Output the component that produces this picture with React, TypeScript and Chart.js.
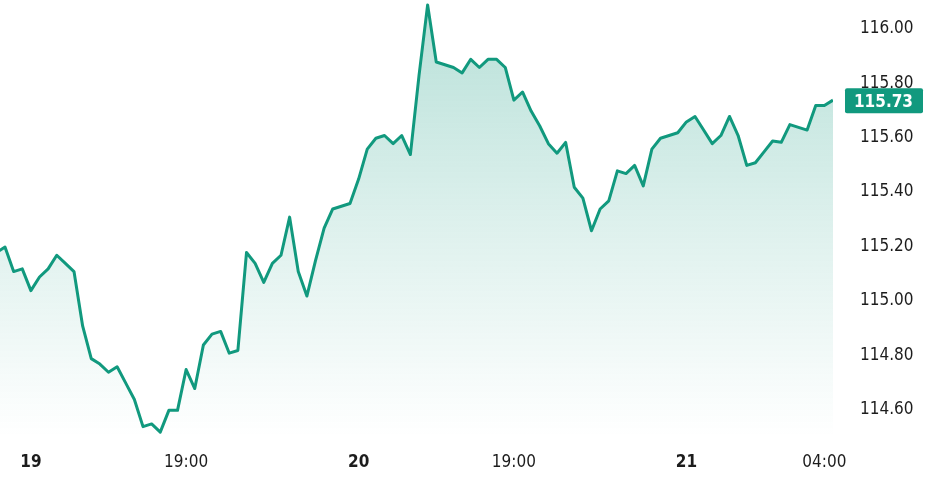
import React, { useEffect, useRef } from "react";
import { Chart, registerables } from "chart.js";

Chart.register(...registerables);

// Prices, one per step; the first one (index -1) sits just left of the visible area
const firstIndex = -1;
const prices = [
  115.17, 115.19, 115.10, 115.11, 115.03, 115.08, 115.11, 115.16, 115.13, 115.10,
  114.90, 114.78, 114.76, 114.73, 114.75, 114.69, 114.63, 114.53, 114.54, 114.51,
  114.59, 114.59, 114.74, 114.67, 114.83, 114.87, 114.88, 114.80, 114.81, 115.17,
  115.13, 115.06, 115.13, 115.16, 115.30, 115.10, 115.01, 115.14, 115.26, 115.33,
  115.34, 115.35, 115.44, 115.55, 115.59, 115.60, 115.57, 115.60, 115.53, 115.82,
  116.08, 115.87, 115.86, 115.85, 115.83, 115.88, 115.85, 115.88, 115.88, 115.85,
  115.73, 115.76, 115.69, 115.635, 115.57, 115.535, 115.575, 115.41, 115.37, 115.25,
  115.33, 115.36, 115.47, 115.46, 115.49, 115.415, 115.55, 115.59, 115.60, 115.61,
  115.65, 115.67, 115.62, 115.57, 115.60, 115.67, 115.60, 115.49, 115.50, 115.54,
  115.58, 115.575, 115.64, 115.63, 115.62, 115.71, 115.71, 115.73,
];

const tickIndices = [3, 21, 41, 59, 79, 95];
const tickLabels = ["19", "19:00", "20", "19:00", "21", "04:00"];
const tickBold = [true, false, true, false, true, false];
const yTicks = [114.6, 114.8, 115.0, 115.2, 115.4, 115.6, 115.8, 116.0];

const LINE = "#11997e";
const TEXT = "#1c1c1c";
const FONT = "'DejaVu Sans Condensed', 'DejaVu Sans', sans-serif";

export default function App() {
  const ref = useRef<HTMLCanvasElement>(null);

  useEffect(() => {
    if (!ref.current) return;
    const points = prices.map((p, i) => ({ x: i + firstIndex, y: p }));
    const last = prices[prices.length - 1];

    const badgePlugin = {
      id: "badge",
      afterDraw(chart: any) {
        const { ctx, chartArea } = chart;
        const y = chart.scales.y.getPixelForValue(last);
        const x0 = chartArea.right + 12;
        const w = 78;
        ctx.save();
        ctx.fillStyle = LINE;
        ctx.beginPath();
        (ctx as any).roundRect(x0, y - 12, w, 25, 2);
        ctx.fill();
        ctx.fillStyle = "#ffffff";
        ctx.font = `bold 17px ${FONT}`;
        ctx.textAlign = "right";
        ctx.textBaseline = "middle";
        ctx.fillText(last.toFixed(2), x0 + 68, y + 2);
        ctx.restore();
      },
    };

    const chart = new Chart(ref.current, {
      type: "line",
      data: {
        datasets: [
          {
            data: points,
            borderColor: LINE,
            borderWidth: 3,
            borderJoinStyle: "round",
            pointRadius: 0,
            pointHoverRadius: 0,
            tension: 0,
            fill: "start",
            backgroundColor: (c: any) => {
              const { chart } = c;
              const area = chart.chartArea;
              if (!area) return "rgba(17,153,126,0.15)";
              const g = chart.ctx.createLinearGradient(0, area.top, 0, area.bottom);
              g.addColorStop(0, "rgba(17,153,126,0.30)");
              g.addColorStop(0.55, "rgba(17,153,126,0.13)");
              g.addColorStop(1, "rgba(17,153,126,0)");
              return g;
            },
          },
        ],
      },
      options: {
        animation: false,
        responsive: false,
        devicePixelRatio: 1,
        layout: { padding: 0 },
        plugins: { legend: { display: false }, tooltip: { enabled: false } },
        scales: {
          x: {
            type: "linear",
            min: -0.58,
            max: 96,
            grid: { display: false, drawTicks: false },
            border: { display: false },
            afterFit: (s: any) => {
              s.height = 60;
              s.paddingLeft = 0;
              s.paddingRight = 0;
            },
            afterBuildTicks: (s: any) => {
              s.ticks = tickIndices.map((v) => ({ value: v }));
            },
            ticks: {
              autoSkip: false,
              maxRotation: 0,
              padding: 15,
              color: TEXT,
              font: (c: any) => ({
                family: FONT,
                size: 17,
                weight: tickBold[c.index] ? "bold" : "normal",
              }),
              callback: (_v: any, i: number) => tickLabels[i],
            },
          },
          y: {
            type: "linear",
            position: "right",
            min: 114.492,
            max: 116.098,
            grid: { display: false, drawTicks: true, tickLength: 27 },
            border: { display: false },
            afterFit: (s: any) => {
              s.width = 109;
              s.paddingTop = 0;
              s.paddingBottom = 0;
            },
            afterBuildTicks: (s: any) => {
              s.ticks = yTicks.map((v) => ({ value: v }));
            },
            ticks: {
              padding: 0,
              labelOffset: 2,
              crossAlign: "near",
              color: TEXT,
              font: { family: FONT, size: 17 },
              callback: (v: any) => Number(v).toFixed(2),
            },
          },
        },
      },
      plugins: [badgePlugin],
    });
    return () => chart.destroy();
  }, []);

  return (
    <div style={{ position: "absolute", left: 0, top: 0, width: 942, height: 497, background: "#fff" }}>
      <canvas ref={ref} width={942} height={497} style={{ display: "block" }} />
    </div>
  );
}
